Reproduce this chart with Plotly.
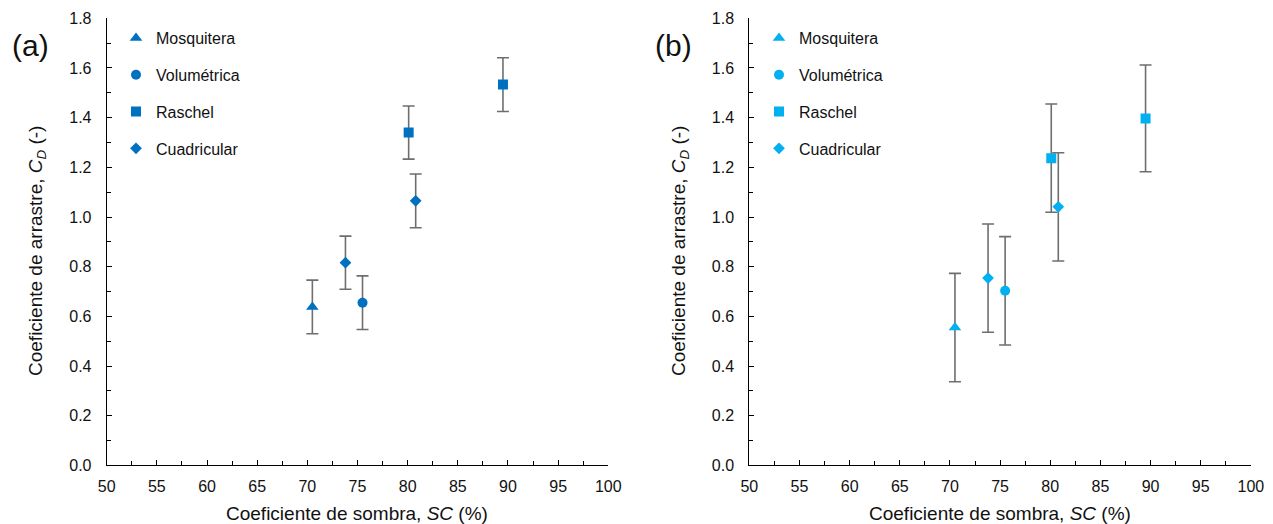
import plotly.graph_objects as go

# ---- data ----
series_names = ["Mosquitera", "Volumétrica", "Raschel", "Cuadricular"]
series_symbols = ["triangle-up", "circle", "square", "diamond"]
series_sizes = [11, 10, 10, 9]

sc_mosquitera = [70.5]
sc_volumetrica = [75.5]
sc_raschel = [80.1, 89.5]
sc_cuadricular = [73.8, 80.8]

# panel (a)
cd_a_mosquitera = [0.638]
cd_a_volumetrica = [0.655]
cd_a_raschel = [1.340, 1.533]
cd_a_cuadricular = [0.816, 1.065]
err_a_mosquitera = [0.108]
err_a_volumetrica = [0.108]
err_a_raschel = [0.107, 0.108]
err_a_cuadricular = [0.107, 0.108]

# panel (b)
cd_b_mosquitera = [0.555]
cd_b_volumetrica = [0.703]
cd_b_raschel = [1.237, 1.397]
cd_b_cuadricular = [0.754, 1.041]
err_b_mosquitera = [0.218]
err_b_volumetrica = [0.218]
err_b_raschel = [0.218, 0.215]
err_b_cuadricular = [0.218, 0.218]

x_ticks = [50, 55, 60, 65, 70, 75, 80, 85, 90, 95, 100]
y_ticks = [0.0, 0.2, 0.4, 0.6, 0.8, 1.0, 1.2, 1.4, 1.6, 1.8]

xs = [sc_mosquitera, sc_volumetrica, sc_raschel, sc_cuadricular]
ys_a = [cd_a_mosquitera, cd_a_volumetrica, cd_a_raschel, cd_a_cuadricular]
es_a = [err_a_mosquitera, err_a_volumetrica, err_a_raschel, err_a_cuadricular]
ys_b = [cd_b_mosquitera, cd_b_volumetrica, cd_b_raschel, cd_b_cuadricular]
es_b = [err_b_mosquitera, err_b_volumetrica, err_b_raschel, err_b_cuadricular]

color_a = "#0070C0"
color_b = "#00B0F0"
err_color = "#6E6E6E"
FONT = "Liberation Sans, Arial, sans-serif"
TXT = "#111111"

W, H = 1273, 524

fig = go.Figure()

def add_panel(ys, es, color, xaxis, yaxis, legend, tag):
    for i, name in enumerate(series_names):
        fig.add_trace(go.Scatter(
            x=xs[i], y=ys[i], mode="markers", name=name,
            xaxis=xaxis, yaxis=yaxis, legend=legend,
            legendgroup=tag + str(i),
            marker=dict(symbol=series_symbols[i], size=series_sizes[i], color=color,
                        line=dict(width=0)),
            error_y=dict(type="data", array=es[i], visible=True, color=err_color,
                         thickness=1.6, width=6),
        ))

add_panel(ys_a, es_a, color_a, "x", "y", "legend", "a")
add_panel(ys_b, es_b, color_b, "x2", "y2", "legend2", "b")

def px_x(p):
    return p / W

def px_y(p):
    return 1 - p / H

xa_dom = [px_x(106.7), px_x(608.3)]
xb_dom = [px_x(749.3), px_x(1250.9)]
y_dom = [px_y(465.4), px_y(18.3)]

axis_common = dict(
    showgrid=False, zeroline=False, showline=True, linecolor="black", linewidth=1,
    ticks="inside", ticklen=5, tickcolor="black", tickwidth=1,
    tickfont=dict(family=FONT, size=16, color=TXT),
    automargin=False,
)

xaxis_common = dict(axis_common, range=[50, 100], tickvals=x_ticks,
                    ticktext=[str(v) for v in x_ticks],
                    minor=dict(dtick=2.5, ticks="inside", ticklen=4, tickcolor="black"),
                    ticklabelstandoff=6)
yaxis_common = dict(axis_common, range=[0, 1.8], tickvals=y_ticks,
                    ticktext=["%.1f" % v for v in y_ticks],
                    minor=dict(dtick=0.1, ticks="inside", ticklen=4, tickcolor="black"),
                    ticklabelstandoff=11)

legend_common = dict(
    font=dict(family=FONT, size=16, color=TXT),
    bgcolor="rgba(0,0,0,0)", borderwidth=0,
    tracegroupgap=13, itemwidth=30,
    xanchor="left", yanchor="top",
)

fig.update_layout(
    width=W, height=H,
    margin=dict(l=0, r=0, t=0, b=0),
    paper_bgcolor="white", plot_bgcolor="white",
    font=dict(family=FONT, color=TXT),
    xaxis=dict(xaxis_common, domain=xa_dom, anchor="y"),
    yaxis=dict(yaxis_common, domain=y_dom, anchor="x"),
    xaxis2=dict(xaxis_common, domain=xb_dom, anchor="y2"),
    yaxis2=dict(yaxis_common, domain=y_dom, anchor="x2"),
    legend=dict(legend_common, x=px_x(116), y=px_y(21)),
    legend2=dict(legend_common, x=px_x(759), y=px_y(21)),
    showlegend=True,
)

title_font = dict(family=FONT, size=19, color=TXT)
annotations = [
    dict(text="Coeficiente de sombra, <i>SC</i> (%)", x=px_x(357), y=px_y(513),
         xref="paper", yref="paper", showarrow=False, font=title_font,
         xanchor="center", yanchor="middle"),
    dict(text="Coeficiente de sombra, <i>SC</i> (%)", x=px_x(1000), y=px_y(513),
         xref="paper", yref="paper", showarrow=False, font=title_font,
         xanchor="center", yanchor="middle"),
    dict(text="Coeficiente de arrastre, <i>C</i><sub><i>D</i></sub> (-)", x=px_x(37), y=px_y(251),
         xref="paper", yref="paper", showarrow=False, font=title_font, textangle=-90,
         xanchor="center", yanchor="middle"),
    dict(text="Coeficiente de arrastre, <i>C</i><sub><i>D</i></sub> (-)", x=px_x(680), y=px_y(251),
         xref="paper", yref="paper", showarrow=False, font=title_font, textangle=-90,
         xanchor="center", yanchor="middle"),
    dict(text="(a)", x=px_x(30), y=px_y(45), xref="paper", yref="paper", showarrow=False,
         font=dict(family=FONT, size=30, color=TXT), xanchor="center", yanchor="middle"),
    dict(text="(b)", x=px_x(673), y=px_y(45), xref="paper", yref="paper", showarrow=False,
         font=dict(family=FONT, size=30, color=TXT), xanchor="center", yanchor="middle"),
]
fig.update_layout(annotations=annotations)

fig.write_html("out.html", config={"displayModeBar": False},
               post_script="document.body.style.margin='0';document.body.style.overflow='hidden';")
